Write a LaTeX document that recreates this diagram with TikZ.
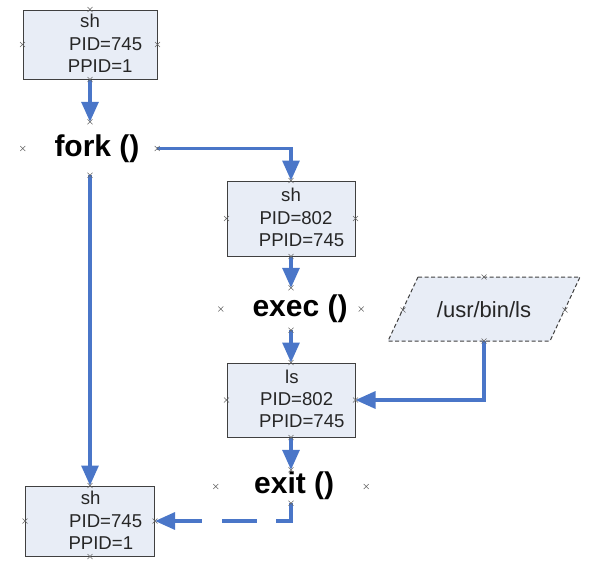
\documentclass[tikz,border=0pt]{standalone}
\usepackage{fontspec}
\setmainfont{Liberation Sans}
\usetikzlibrary{arrows.meta}
\definecolor{flow}{HTML}{4A76C8}
\definecolor{boxfill}{HTML}{E8EDF6}
\definecolor{boxline}{HTML}{404040}
\newcommand\cpx[1]{\draw[cpm] #1 ++(-2.5,-2.5) -- ++(5,5) ++(-5,0) -- ++(5,-5);}
\begin{document}
\begin{tikzpicture}[x=1pt,y=-1pt,
  procbox/.style={draw=boxline,fill=boxfill,line width=1pt,inner sep=0pt,rectangle},
  conn/.style={inner sep=0pt,rectangle},
  txt/.style={anchor=base west,inner sep=0pt,font=\fontsize{18.6}{22}\selectfont,text=black!85},
  btxt/.style={anchor=base west,inner sep=0pt,font=\fontsize{30}{34}\selectfont\bfseries},
  flowline/.style={draw=flow,line width=3.2pt,-{Triangle[length=20pt,width=17pt]}},
  cpm/.style={draw=gray!80!black,line width=0.6pt}]
\useasboundingbox (0,0) rectangle (595,562);
% boxes
\node[procbox,minimum width=134pt,minimum height=69pt] (b1) at (90,44.5) {};
\node[procbox,minimum width=128pt,minimum height=75pt] (b2) at (291,218.5) {};
\node[procbox,minimum width=128pt,minimum height=74pt] (b3) at (291,400) {};
\node[procbox,minimum width=129pt,minimum height=70pt] (b4) at (90,521) {};
% invisible connection areas for the labels
\node[conn,minimum width=134pt,minimum height=53pt] (fork) at (90,148.5) {};
\node[conn,minimum width=140pt,minimum height=42pt] (exec) at (291,309) {};
\node[conn,minimum width=150pt,minimum height=33pt] (exit) at (291,486.5) {};
% parallelogram
\draw[boxline,fill=boxfill,line width=1pt,dashed,dash pattern=on 4pt off 2.5pt] (418,277) -- (580,277) -- (550,341) -- (388,341) -- cycle;
\coordinate (pT) at (484,277);
\coordinate (pB) at (484,341);
\coordinate (pL) at (403,310);
\coordinate (pR) at (565,310);
\node[inner sep=0pt,font=\fontsize{22}{26}\selectfont,text=black!85] (path) at (484,310) {/usr/bin/ls};
% texts in boxes
\node[txt] (b1a) at (80,27.5) {sh};
\node[txt] (b1b) at (69,50.7) {PID=745};
\node[txt] (b1c) at (67.7,72.7) {PPID=1};
\node[txt] (b2a) at (281,201.7) {sh};
\node[txt] (b2b) at (259.3,224.3) {PID=802};
\node[txt] (b2c) at (258.7,246.7) {PPID=745};
\node[txt] (b3a) at (285,383.3) {ls};
\node[txt] (b3b) at (260,405) {PID=802};
\node[txt] (b3c) at (259,427.7) {PPID=745};
\node[txt] (b4a) at (80.7,504) {sh};
\node[txt] (b4b) at (69,527.3) {PID=745};
\node[txt] (b4c) at (68.3,549.3) {PPID=1};
% bold labels
\node[btxt] (forkt) at (54.3,156) {fork ()};
\node[btxt] (exect) at (252.3,316.7) {exec ()};
\node[btxt] (exitt) at (254,493.3) {exit ()};
% connectors
\draw[flowline] (b1.south) -- (fork.north);
\draw[flowline] (fork.east) -| (b2.north);
\draw[flowline] (b2.south) -- (exec.north);
\draw[flowline] (exec.south) -- (b3.north);
\draw[flowline] (b3.south) -- (exit.north);
\draw[flowline] (fork.south) -- (b4.north);
\draw[flowline] (pB) |- (b3.east);
\draw[flowline,dash pattern=on 33pt off 19pt on 35pt off 20pt on 80pt] (exit.south) |- (b4.east);
% connection point marks
\foreach \n in {b1,b2,b3,b4,fork,exec,exit}{
  \cpx{(\n.north)}\cpx{(\n.south)}\cpx{(\n.east)}\cpx{(\n.west)}
}
\cpx{(pT)}\cpx{(pB)}\cpx{(pL)}\cpx{(pR)}
\end{tikzpicture}
\end{document}
